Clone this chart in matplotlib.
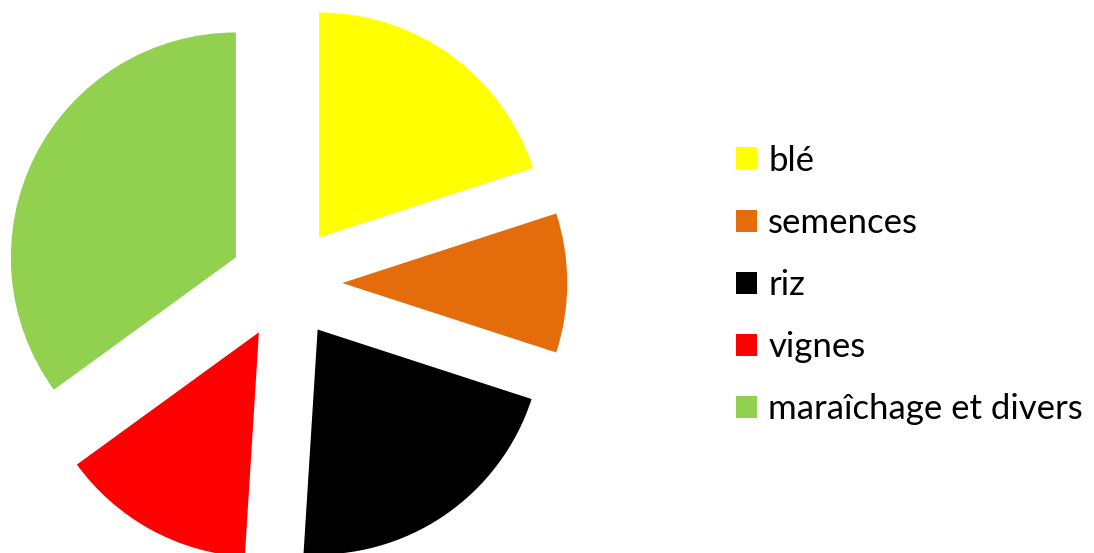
import matplotlib.pyplot as plt

categories = ["blé", "semences", "riz", "vignes", "maraîchage et divers"]
shares = [20, 10, 21, 14, 35]
colors = ["#FFFF00", "#E46C0A", "#000000", "#FF0000", "#92D050"]

W, H = 1094, 553
fig = plt.figure(figsize=(W / 100, H / 100), dpi=100)
ax = fig.add_axes([0, 0, 1, 1])

radius = 225
center = (286, H - 283)
wedges, _ = ax.pie(
    shares,
    colors=colors,
    startangle=90,
    counterclock=False,
    radius=radius,
    center=center,
    explode=[0.25 * radius] * len(shares),
    frame=False,
)
ax.set_xlim(0, W)
ax.set_ylim(0, H)
ax.set_aspect("equal")
ax.axis("off")

leg = ax.legend(
    wedges, categories,
    loc="center left", bbox_to_anchor=(736 / W, 1 - 285 / H),
    frameon=False,
    prop={"family": "Lato", "size": 25},
    handlelength=0.6, handleheight=0.6, handletextpad=0.33,
    labelspacing=0.87, borderpad=0, borderaxespad=0,
)

fig.savefig("out.png", dpi=100)
